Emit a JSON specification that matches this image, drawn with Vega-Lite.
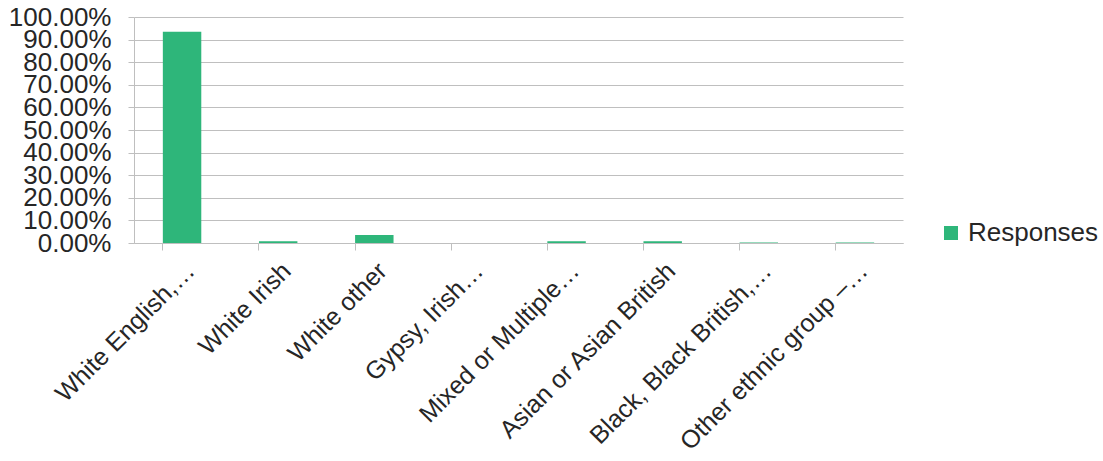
{
  "$schema": "https://vega.github.io/schema/vega-lite/v6.json",
  "autosize": {"type": "none"},
  "width": 769,
  "height": 226,
  "padding": {"left": 134, "top": 17, "right": 200, "bottom": 218},
  "background": "white",
  "data": {"values": [
    {"group": "White English,…", "series": "Responses", "value": 0.935},
    {"group": "White Irish", "series": "Responses", "value": 0.008},
    {"group": "White other", "series": "Responses", "value": 0.035},
    {"group": "Gypsy, Irish…", "series": "Responses", "value": 0.0005},
    {"group": "Mixed or Multiple…", "series": "Responses", "value": 0.008},
    {"group": "Asian or Asian British", "series": "Responses", "value": 0.008},
    {"group": "Black, Black British,…", "series": "Responses", "value": 0.002},
    {"group": "Other ethnic group –…", "series": "Responses", "value": 0.002}
  ]},
  "mark": {"type": "bar"},
  "encoding": {
    "x": {
      "field": "group", "type": "nominal", "sort": null, "title": null,
      "scale": {"paddingInner": 0.6, "paddingOuter": 0.3},
      "axis": {
        "labelAngle": -45, "labelFontSize": 25, "labelFont": "Liberation Sans",
        "labelColor": "#262626", "labelLimit": 400, "labelPadding": 8, "labelDx": -6,
        "bandPosition": 0, "ticks": true, "tickSize": 7, "tickColor": "#bfbfbf",
        "domainColor": "#bfbfbf", "grid": false, "labelOverlap": false
      }
    },
    "y": {
      "field": "value", "type": "quantitative", "title": null,
      "scale": {"domain": [0, 1], "nice": false},
      "axis": {
        "format": ".2%", "values": [0, 0.1, 0.2, 0.3, 0.4, 0.5, 0.6, 0.7, 0.8, 0.9, 1],
        "labelFontSize": 26, "labelFont": "Liberation Sans", "labelColor": "#262626",
        "labelPadding": 17, "tickSize": 6, "tickColor": "#bfbfbf",
        "domainColor": "#bfbfbf", "gridColor": "#bfbfbf", "labelOverlap": false,
        "labelBaseline": "middle"
      }
    },
    "color": {
      "field": "series", "type": "nominal", "title": null,
      "scale": {"range": ["#2eb67a"]},
      "legend": {
        "orient": "none", "legendX": 804, "legendY": 203,
        "labelFontSize": 26, "labelFont": "Liberation Sans", "labelColor": "#262626",
        "symbolType": "square", "symbolSize": 196, "symbolStrokeWidth": 0, "labelOffset": 4
      }
    }
  },
  "config": {"view": {"stroke": null}}
}
